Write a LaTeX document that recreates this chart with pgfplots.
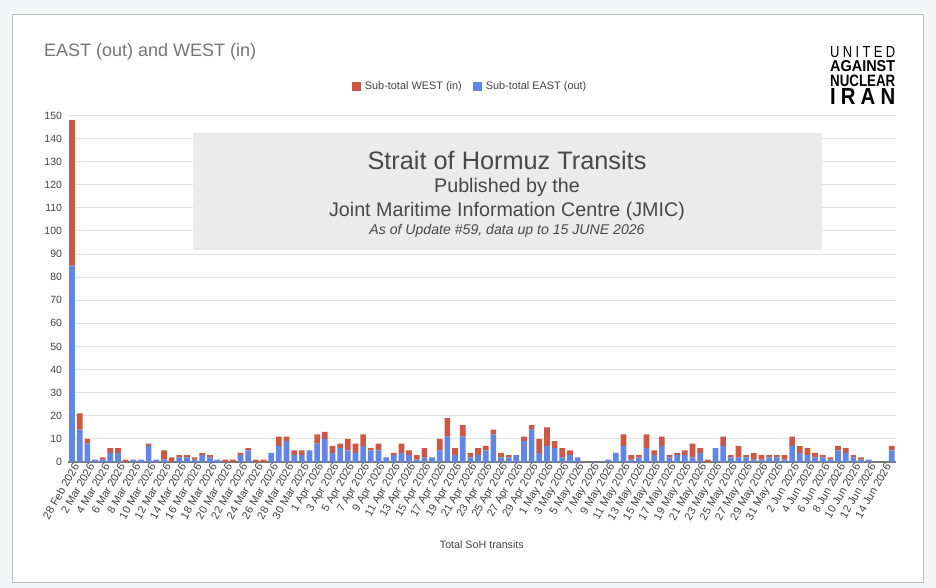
\documentclass[border=0pt]{standalone}
\usepackage{fontspec}
\setmainfont{Liberation Sans}
\usepackage{graphicx}
\usepackage{pgfplots}
\usepackage{pgfplotstable}
\pgfplotsset{compat=1.18}
\definecolor{eastblue}{RGB}{97,134,232}
\definecolor{westred}{RGB}{204,88,68}
\definecolor{gridgray}{RGB}{226,226,226}
\definecolor{basegray}{RGB}{120,120,120}
\definecolor{ticktext}{RGB}{68,68,68}
\definecolor{titlegray}{RGB}{117,117,117}
\definecolor{boxgray}{RGB}{235,235,235}
\definecolor{boxtext}{RGB}{72,72,72}
\definecolor{pagebg}{RGB}{244,245,247}
\definecolor{panelborder}{RGB}{190,190,190}

\pgfplotstableread{
i E W
0 85 63
1 14 7
2 8 2
3 1 0
4 1 1
5 4 2
6 4 2
7 0 1
8 1 0
9 1 0
10 7 1
11 1 0
12 1 4
13 0 2
14 2 1
15 2 1
16 1 1
17 3 1
18 2 1
19 1 0
20 0 1
21 0 1
22 3 1
23 5 1
24 0 1
25 0 1
26 4 0
27 7 4
28 9 2
29 3 2
30 3 2
31 5 0
32 8 4
33 10 3
34 4 3
35 6 2
36 5 5
37 4 4
38 7 5
39 5 1
40 5 3
41 2 0
42 3 1
43 4 4
44 3 2
45 1 2
46 2 4
47 2 0
48 5 5
49 11 8
50 3 3
51 11 5
52 2 2
53 3 3
54 5 2
55 12 2
56 2 2
57 2 1
58 3 0
59 9 2
60 14 2
61 4 6
62 7 8
63 6 3
64 2 4
65 3 2
66 2 0
67 0 0
68 0 0
69 0 0
70 1 0
71 4 0
72 7 5
73 1 2
74 2 1
75 6 6
76 3 2
77 7 4
78 2 1
79 3 1
80 3 2
81 2 6
82 4 2
83 0 1
84 6 0
85 7 4
86 2 1
87 2 5
88 2 1
89 1 3
90 1 2
91 2 1
92 2 1
93 1 2
94 7 4
95 4 3
96 3 3
97 2 2
98 2 1
99 1 1
100 5 2
101 4 2
102 2 1
103 1 1
104 1 0
105 0 0
106 0 0
107 5 2
}\transits

\begin{document}
\begin{tikzpicture}
\fill[pagebg] (0,0) rectangle (936bp,-588bp);
\path[use as bounding box] (0,0) rectangle (936bp,-588bp);
\draw[panelborder, fill=white, line width=1bp] (12bp,-14bp) rectangle (923bp,-582bp);
\node[anchor=west, inner sep=0pt, text=titlegray, font=\fontsize{18bp}{21bp}\selectfont] at (44bp,-52bp) {EAST (out) and WEST (in)};

\begin{axis}[
  at={(68.2bp,-462bp)}, anchor=south west,
  scale only axis, width=827.3bp, height=346.6bp,
  xmin=-0.5, xmax=107.5, ymin=0, ymax=150,
  ybar stacked, bar width=0.74,
  axis line style={draw=none},
  major tick length=0pt,
  ytick={0,10,...,150},
  ymajorgrids,
  major grid style={draw=gridgray, line width=1bp},
  extra y ticks={0}, extra y tick labels={},
  extra y tick style={major grid style={draw=basegray, line width=1.1bp}},
  /pgf/number format/assume math mode=true,
  yticklabel style={font=\fontsize{10.5bp}{12bp}\selectfont, text=ticktext, inner sep=0pt, anchor=east, xshift=-6bp},
  xtick={0,2,...,106},
  xticklabels={28 Feb 2026,2 Mar 2026,4 Mar 2026,6 Mar 2026,8 Mar 2026,10 Mar 2026,12 Mar 2026,14 Mar 2026,16 Mar 2026,18 Mar 2026,20 Mar 2026,22 Mar 2026,24 Mar 2026,26 Mar 2026,28 Mar 2026,30 Mar 2026,1 Apr 2026,3 Apr 2026,5 Apr 2026,7 Apr 2026,9 Apr 2026,11 Apr 2026,13 Apr 2026,15 Apr 2026,17 Apr 2026,19 Apr 2026,21 Apr 2026,23 Apr 2026,25 Apr 2026,27 Apr 2026,29 Apr 2026,1 May 2026,3 May 2026,5 May 2026,7 May 2026,9 May 2026,11 May 2026,13 May 2026,15 May 2026,17 May 2026,19 May 2026,21 May 2026,23 May 2026,25 May 2026,27 May 2026,29 May 2026,31 May 2026,2 Jun 2026,4 Jun 2026,6 Jun 2026,8 Jun 2026,10 Jun 2026,12 Jun 2026,14 Jun 2026},
  xticklabel style={font=\fontsize{11bp}{13bp}\selectfont, text=ticktext, rotate=60, anchor=east, inner sep=0pt, yshift=-5bp},
  xlabel={Total SoH transits},
  xlabel style={at={(axis description cs:0.5,-0.2395)}, anchor=center, font=\fontsize{10.7bp}{12bp}\selectfont, text=ticktext},
  legend style={at={(axis description cs:0.487,1.0848)}, anchor=center, draw=none, fill=none, legend columns=2,
    font=\fontsize{10.9bp}{12bp}\selectfont, text=ticktext,
    /tikz/every even column/.append style={column sep=8bp},
    nodes={inner ysep=1bp, inner xsep=3.5bp, anchor=west}},
  legend image code/.code={\path[#1,draw=none] (0bp,-4.5bp) rectangle (9bp,4.5bp);},
  reverse legend,
]
\addplot[fill=eastblue, draw=none] table[x=i, y=E] {\transits};
\addlegendentry{Sub-total EAST (out)}
\addplot[fill=westred, draw=none] table[x=i, y=W] {\transits};
\addlegendentry{Sub-total WEST (in)}
\end{axis}

\fill[boxgray] (193bp,-133bp) rectangle (822bp,-250bp);
\node[text=boxtext, inner sep=0pt, font=\fontsize{25.3bp}{28bp}\selectfont] at (507bp,-160bp) {Strait of Hormuz Transits};
\node[text=boxtext, inner sep=0pt, font=\fontsize{19.7bp}{22bp}\selectfont] at (507bp,-187bp) {Published by the};
\node[text=boxtext, inner sep=0pt, font=\fontsize{19.7bp}{22bp}\selectfont] at (507bp,-211bp) {Joint Maritime Information Centre (JMIC)};
\node[text=boxtext, inner sep=0pt, font=\fontsize{14.1bp}{16bp}\itshape] at (507bp,-231bp) {As of Update \#59, data up to 15 JUNE 2026};

\node[anchor=south west, inner sep=0pt] at (830bp,-58bp) {\resizebox{65bp}{11bp}{\makebox[5em][s]{U\hfill N\hfill I\hfill T\hfill E\hfill D}}};
\node[anchor=south west, inner sep=0pt] at (830bp,-72bp) {\resizebox{65bp}{11bp}{\bfseries AGAINST}};
\node[anchor=south west, inner sep=0pt] at (830bp,-87bp) {\resizebox{65bp}{11.5bp}{\bfseries NUCLEAR}};
\node[anchor=south west, inner sep=0pt] at (830bp,-105bp) {\resizebox{65bp}{16bp}{\makebox[3.2em][s]{\bfseries I\hfill R\hfill A\hfill N}}};
\end{tikzpicture}
\end{document}
